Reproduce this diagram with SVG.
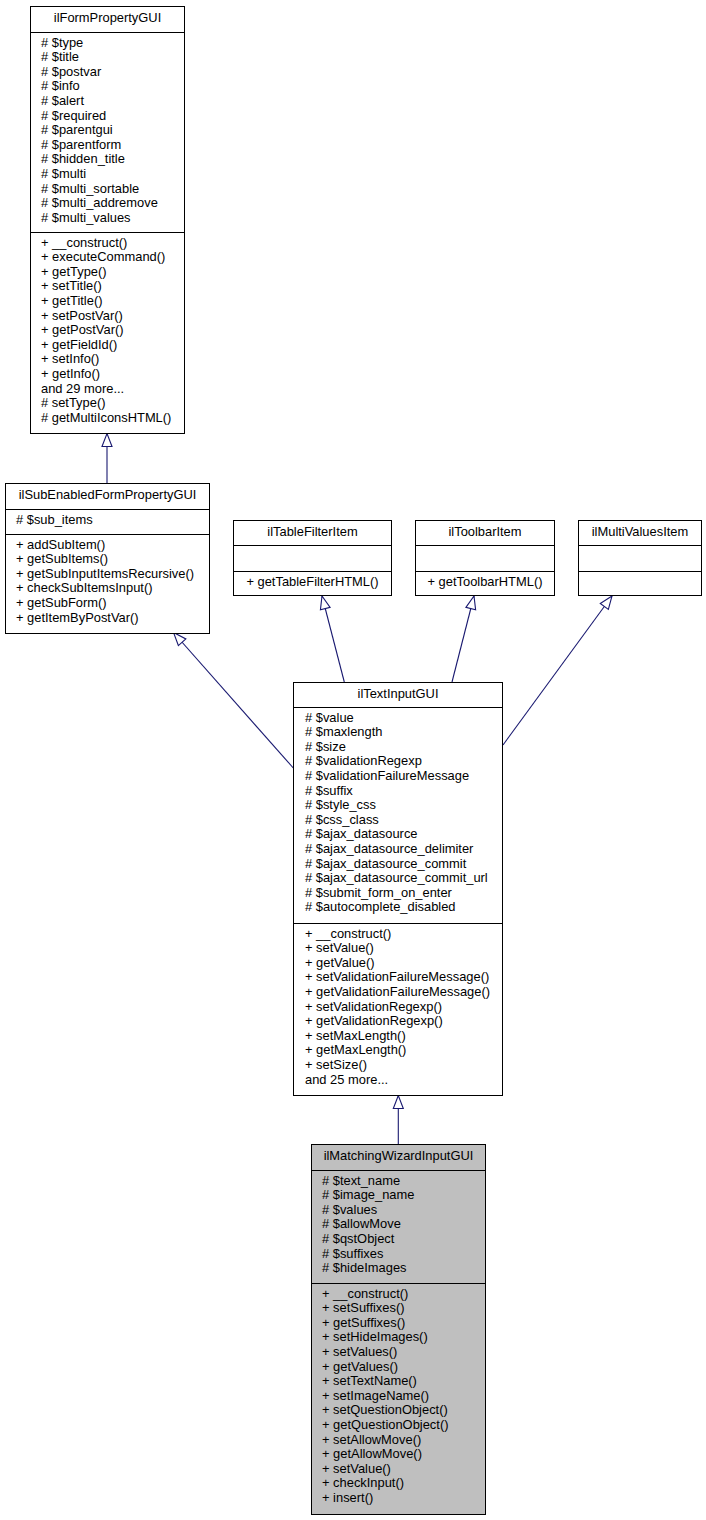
<svg xmlns="http://www.w3.org/2000/svg" width="706" height="1520" viewBox="0 0 706 1520">
<style>
.box{fill:#fff;stroke:#000;stroke-width:1}
.cur{fill:#bfbfbf;stroke:#000;stroke-width:1}
.sep{stroke:#000;stroke-width:1}
text{font-family:"Liberation Sans",Arial,sans-serif;font-size:12.9px;fill:#000}
.t{text-anchor:middle}
.e{fill:none;stroke:#191970;stroke-width:1.1}
</style>
<defs>
<marker id="inh" markerUnits="userSpaceOnUse" viewBox="-1 -1 15 12" refX="13" refY="5" markerWidth="15" markerHeight="12" orient="auto" overflow="visible">
<path d="M0,0 L13,5 L0,10 z" fill="#fff" stroke="#191970" stroke-width="1.1"/>
</marker>
</defs>
<rect width="706" height="1520" fill="#fff"/>
<g id="edges">
<path class="e" d="M107,483 L107,433.5" marker-end="url(#inh)"/>
<path class="e" d="M293.3,768 L173.5,632.5" marker-end="url(#inh)"/>
<path class="e" d="M344.3,682 L322,596" marker-end="url(#inh)"/>
<path class="e" d="M452,682 L474,596" marker-end="url(#inh)"/>
<path class="e" d="M503,745 L612,596" marker-end="url(#inh)"/>
<path class="e" d="M398.3,1144 L398.3,1095.5" marker-end="url(#inh)"/>
</g>
<g id="ilFormPropertyGUI">
<rect class="box" x="30.5" y="6.5" width="154" height="427"/>
<line class="sep" x1="30.5" y1="32.5" x2="184.5" y2="32.5"/>
<line class="sep" x1="30.5" y1="232.5" x2="184.5" y2="232.5"/>
<text class="t" x="107.5" y="22">ilFormPropertyGUI</text>
<text x="41" y="46.5"># $type</text>
<text x="41" y="61.1"># $title</text>
<text x="41" y="75.7"># $postvar</text>
<text x="41" y="90.3"># $info</text>
<text x="41" y="104.9"># $alert</text>
<text x="41" y="119.5"># $required</text>
<text x="41" y="134.1"># $parentgui</text>
<text x="41" y="148.7"># $parentform</text>
<text x="41" y="163.3"># $hidden_title</text>
<text x="41" y="177.9"># $multi</text>
<text x="41" y="192.5"># $multi_sortable</text>
<text x="41" y="207.1"># $multi_addremove</text>
<text x="41" y="221.7"># $multi_values</text>
<text x="41" y="246.5">+ __construct()</text>
<text x="41" y="261.1">+ executeCommand()</text>
<text x="41" y="275.7">+ getType()</text>
<text x="41" y="290.3">+ setTitle()</text>
<text x="41" y="304.9">+ getTitle()</text>
<text x="41" y="319.5">+ setPostVar()</text>
<text x="41" y="334.1">+ getPostVar()</text>
<text x="41" y="348.7">+ getFieldId()</text>
<text x="41" y="363.3">+ setInfo()</text>
<text x="41" y="377.9">+ getInfo()</text>
<text x="41" y="392.5">and 29 more...</text>
<text x="41" y="407.1"># setType()</text>
<text x="41" y="421.7"># getMultiIconsHTML()</text>
</g>
<g id="ilSubEnabledFormPropertyGUI">
<rect class="box" x="5.5" y="483.5" width="204" height="150"/>
<line class="sep" x1="5.5" y1="509.5" x2="209.5" y2="509.5"/>
<line class="sep" x1="5.5" y1="534.5" x2="209.5" y2="534.5"/>
<text class="t" x="107.5" y="499">ilSubEnabledFormPropertyGUI</text>
<text x="16" y="523.5"># $sub_items</text>
<text x="16" y="548.5">+ addSubItem()</text>
<text x="16" y="563.1">+ getSubItems()</text>
<text x="16" y="577.7">+ getSubInputItemsRecursive()</text>
<text x="16" y="592.3">+ checkSubItemsInput()</text>
<text x="16" y="606.9">+ getSubForm()</text>
<text x="16" y="621.5">+ getItemByPostVar()</text>
</g>
<g id="ilTableFilterItem">
<rect class="box" x="233.5" y="520.5" width="158" height="75"/>
<line class="sep" x1="233.5" y1="545.5" x2="391.5" y2="545.5"/>
<line class="sep" x1="233.5" y1="571.5" x2="391.5" y2="571.5"/>
<text class="t" x="312.5" y="536">ilTableFilterItem</text>
<text class="t" x="312.5" y="586">+ getTableFilterHTML()</text>
</g>
<g id="ilToolbarItem">
<rect class="box" x="415.5" y="520.5" width="139" height="75"/>
<line class="sep" x1="415.5" y1="545.5" x2="554.5" y2="545.5"/>
<line class="sep" x1="415.5" y1="571.5" x2="554.5" y2="571.5"/>
<text class="t" x="485" y="536">ilToolbarItem</text>
<text class="t" x="485" y="586">+ getToolbarHTML()</text>
</g>
<g id="ilMultiValuesItem">
<rect class="box" x="578.5" y="520.5" width="123" height="75"/>
<line class="sep" x1="578.5" y1="545.5" x2="701.5" y2="545.5"/>
<line class="sep" x1="578.5" y1="571.5" x2="701.5" y2="571.5"/>
<text class="t" x="640" y="536">ilMultiValuesItem</text>
</g>
<g id="ilTextInputGUI">
<rect class="box" x="293.5" y="682.5" width="209" height="413"/>
<line class="sep" x1="293.5" y1="707.5" x2="502.5" y2="707.5"/>
<line class="sep" x1="293.5" y1="923.5" x2="502.5" y2="923.5"/>
<text class="t" x="398" y="698">ilTextInputGUI</text>
<text x="305" y="721.5"># $value</text>
<text x="305" y="736.1"># $maxlength</text>
<text x="305" y="750.7"># $size</text>
<text x="305" y="765.3"># $validationRegexp</text>
<text x="305" y="779.9"># $validationFailureMessage</text>
<text x="305" y="794.5"># $suffix</text>
<text x="305" y="809.1"># $style_css</text>
<text x="305" y="823.7"># $css_class</text>
<text x="305" y="838.3"># $ajax_datasource</text>
<text x="305" y="852.9"># $ajax_datasource_delimiter</text>
<text x="305" y="867.5"># $ajax_datasource_commit</text>
<text x="305" y="882.1"># $ajax_datasource_commit_url</text>
<text x="305" y="896.7"># $submit_form_on_enter</text>
<text x="305" y="911.3"># $autocomplete_disabled</text>
<text x="305" y="937.5">+ __construct()</text>
<text x="305" y="952.1">+ setValue()</text>
<text x="305" y="966.7">+ getValue()</text>
<text x="305" y="981.3">+ setValidationFailureMessage()</text>
<text x="305" y="995.9">+ getValidationFailureMessage()</text>
<text x="305" y="1010.5">+ setValidationRegexp()</text>
<text x="305" y="1025.1">+ getValidationRegexp()</text>
<text x="305" y="1039.7">+ setMaxLength()</text>
<text x="305" y="1054.3">+ getMaxLength()</text>
<text x="305" y="1068.9">+ setSize()</text>
<text x="305" y="1083.5">and 25 more...</text>
</g>
<g id="ilMatchingWizardInputGUI">
<rect class="cur" x="311.5" y="1144.5" width="174" height="370"/>
<line class="sep" x1="311.5" y1="1170.5" x2="485.5" y2="1170.5"/>
<line class="sep" x1="311.5" y1="1283.5" x2="485.5" y2="1283.5"/>
<text class="t" x="398.5" y="1160">ilMatchingWizardInputGUI</text>
<text x="322" y="1184.5"># $text_name</text>
<text x="322" y="1199.1"># $image_name</text>
<text x="322" y="1213.7"># $values</text>
<text x="322" y="1228.3"># $allowMove</text>
<text x="322" y="1242.9"># $qstObject</text>
<text x="322" y="1257.5"># $suffixes</text>
<text x="322" y="1272.1"># $hideImages</text>
<text x="322" y="1297.5">+ __construct()</text>
<text x="322" y="1312.1">+ setSuffixes()</text>
<text x="322" y="1326.7">+ getSuffixes()</text>
<text x="322" y="1341.3">+ setHideImages()</text>
<text x="322" y="1355.9">+ setValues()</text>
<text x="322" y="1370.5">+ getValues()</text>
<text x="322" y="1385.1">+ setTextName()</text>
<text x="322" y="1399.7">+ setImageName()</text>
<text x="322" y="1414.3">+ setQuestionObject()</text>
<text x="322" y="1428.9">+ getQuestionObject()</text>
<text x="322" y="1443.5">+ setAllowMove()</text>
<text x="322" y="1458.1">+ getAllowMove()</text>
<text x="322" y="1472.7">+ setValue()</text>
<text x="322" y="1487.3">+ checkInput()</text>
<text x="322" y="1501.9">+ insert()</text>
</g>
</svg>
